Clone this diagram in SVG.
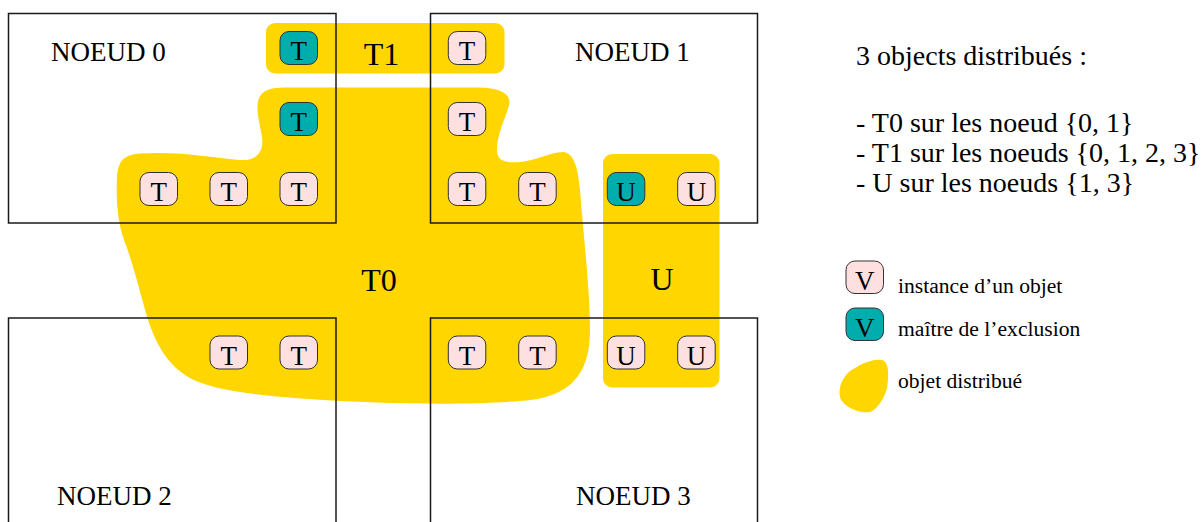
<svg xmlns="http://www.w3.org/2000/svg" width="1202" height="522" viewBox="0 0 1202 522">
<defs>
<style>
text{font-family:"Liberation Serif","Times New Roman",serif;fill:#000}
.blob{fill:#ffd600}
.node{fill:none;stroke:#1a1a1a;stroke-width:1.5}
.nlab{font-size:27px}
.big{font-size:32px;text-anchor:middle}
.b rect{stroke:#333;stroke-width:1;rx:9;ry:9}
.inst rect{fill:#ffe0e0}
.mast rect{fill:#00adad}
.b text{font-size:27px;text-anchor:middle}
.leg{font-size:21.6px}
.info{font-size:28px}
</style>
</defs>
<rect width="1202" height="522" fill="#fff"/>
<g id="obj-T0">
<path class="blob" d="M 290,87.5 L 480,87.5 C 500,88 512,94 509,105 C 506,118 496,135 497,152 C 498,162 508,163 520,162 C 535,161 550,152 563,152 C 575,153 578,170 580,190 C 583,230 590,290 590,330 C 590,375 570,398 520,401 C 470,405 400,404 340,401 C 270,397 215,392 190,378 C 165,364 155,340 148,320 C 140,292 132,260 124,240 C 117,220 116,195 117,178 C 118,160 124,155 140,153.5 C 180,151 215,158 240,160 C 258,161 264,150 262,137 C 260,122 254,108 260,96 C 266,88 275,87.5 290,87.5 Z"/>
<text class="big" x="379" y="290.5">T0</text>
</g>
<g id="obj-T1">
<rect class="blob" x="266" y="23" width="238.5" height="50.5" rx="9"/>
<text class="big" x="381.5" y="65">T1</text>
</g>
<g id="obj-U">
<rect class="blob" x="603" y="154" width="116.5" height="233.5" rx="9"/>
<text class="big" x="662" y="290">U</text>
</g>
<g id="node0">
<rect class="node" x="8.5" y="13.5" width="327.5" height="209.5"/>
<text class="nlab" x="51" y="60.5">NOEUD 0</text>
</g>
<g id="node1">
<rect class="node" x="430.5" y="13.5" width="327" height="209.5"/>
<text class="nlab" x="575" y="60.5">NOEUD 1</text>
</g>
<g id="node2">
<rect class="node" x="8.5" y="318" width="327.5" height="220"/>
<text class="nlab" x="57" y="505">NOEUD 2</text>
</g>
<g id="node3">
<rect class="node" x="430.5" y="318" width="327" height="220"/>
<text class="nlab" x="576" y="505">NOEUD 3</text>
</g>
<g id="connectors"></g>
<g id="instances">
<g class="b mast"><rect x="280" y="31.5" width="37.5" height="33"/><text x="298.8" y="60">T</text></g>
<g class="b inst"><rect x="448.3" y="31.5" width="37.5" height="33"/><text x="467" y="60">T</text></g>
<g class="b mast"><rect x="280" y="102.5" width="37.5" height="33"/><text x="298.8" y="131">T</text></g>
<g class="b inst"><rect x="448.3" y="102.5" width="37.5" height="33"/><text x="467" y="131">T</text></g>
<g class="b inst"><rect x="140" y="172.5" width="37.5" height="33"/><text x="158.8" y="201">T</text></g>
<g class="b inst"><rect x="210" y="172.5" width="37.5" height="33"/><text x="228.8" y="201">T</text></g>
<g class="b inst"><rect x="280" y="172.5" width="37.5" height="33"/><text x="298.8" y="201">T</text></g>
<g class="b inst"><rect x="448.3" y="172.5" width="37.5" height="33"/><text x="467" y="201">T</text></g>
<g class="b inst"><rect x="518.7" y="172.5" width="37.5" height="33"/><text x="537.5" y="201">T</text></g>
<g class="b mast"><rect x="607.3" y="172.5" width="37.5" height="33"/><text x="626" y="201">U</text></g>
<g class="b inst"><rect x="677.7" y="172.5" width="37.5" height="33"/><text x="696.4" y="201">U</text></g>
<g class="b inst"><rect x="210" y="336" width="37.5" height="33"/><text x="228.8" y="364.5">T</text></g>
<g class="b inst"><rect x="280" y="336" width="37.5" height="33"/><text x="298.8" y="364.5">T</text></g>
<g class="b inst"><rect x="448.3" y="336" width="37.5" height="33"/><text x="467" y="364.5">T</text></g>
<g class="b inst"><rect x="518.7" y="336" width="37.5" height="33"/><text x="537.5" y="364.5">T</text></g>
<g class="b inst"><rect x="607.3" y="336" width="37.5" height="33"/><text x="626" y="364.5">U</text></g>
<g class="b inst"><rect x="677.7" y="336" width="37.5" height="33"/><text x="696.4" y="364.5">U</text></g>
</g>
<g id="info">
<text class="info" x="856" y="65">3 objects distribués :</text>
<text class="info" x="856" y="132">- T0 sur les noeud {0, 1}</text>
<text class="info" x="856" y="162">- T1 sur les noeuds {0, 1, 2, 3}</text>
<text class="info" x="856" y="192">- U sur les noeuds {1, 3}</text>
</g>
<g id="legend">
<g class="b inst"><rect x="846" y="261" width="37.5" height="32.5"/><text x="864.8" y="289.5">V</text></g>
<text class="leg" x="898" y="293">instance d’un objet</text>
<g class="b mast"><rect x="846" y="308" width="37.5" height="32.5"/><text x="864.8" y="336.5">V</text></g>
<text class="leg" x="898" y="335.5">maître de l’exclusion</text>
<path class="blob" d="M 860,365 C 868,361 876,359 882,360 C 889,362 889,375 887,388 C 884,400 876,410 870,412 C 860,414 843,407 840,397 C 838,388 842,378 850,371 Z"/>
<text class="leg" x="898" y="387.5">objet distribué</text>
</g>
</svg>
